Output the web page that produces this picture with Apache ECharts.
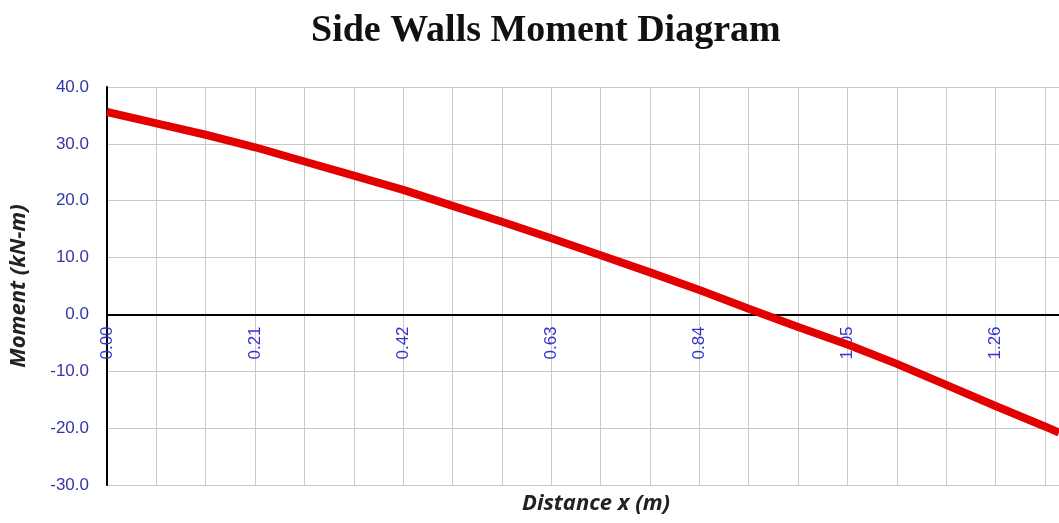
<!DOCTYPE html>
<html>
<head>
<meta charset="utf-8">
<title>Side Walls Moment Diagram</title>
<script src="https://cdn.jsdelivr.net/npm/echarts@6/dist/echarts.min.js"></script>
<style>
  html, body { margin: 0; padding: 0; background: #fff; }
  #main { width: 1059px; height: 523px; }
</style>
</head>
<body>
<div id="main"></div>
<script>
// distance along the wall (m)
var distX = [0.00, 0.07, 0.14, 0.21, 0.28, 0.35, 0.42, 0.49, 0.56, 0.63, 0.70,
             0.77, 0.84, 0.91, 0.98, 1.05, 1.12, 1.19, 1.26, 1.33, 1.35]
// bending moment (kN-m)
var moment = [35.6, 33.6, 31.6, 29.4, 26.9, 24.4, 21.9, 19.1, 16.3, 13.4, 10.4,
              7.4, 4.3, 1.0, -2.2, -5.3, -8.7, -12.4, -16.1, -19.7, -20.8]
// labelled x ticks (every third grid line)
var xLabels = [0.00, 0.21, 0.42, 0.63, 0.84, 1.05, 1.26]

var pts = []
for (var i = 0; i < distX.length; i++) {
  pts.push([distX[i], moment[i]])
}

// grid box
var gTop = 87, gBottom = 38, gHeight = 523 - gTop - gBottom
var yMin = -30, yMax = 40
// move the x axis (line + labels) up to the zero line
var zeroShift = -gHeight * (0 - yMin) / (yMax - yMin)

var myChart = echarts.init(document.getElementById('main'))
myChart.setOption({
  backgroundColor: '#ffffff',
  animation: false,
  title: {
    text: 'Side Walls Moment Diagram',
    left: 306,
    top: 7,
    textStyle: {
      fontFamily: 'Liberation Serif',
      fontWeight: 'bold',
      fontSize: 38,
      color: '#111'
    }
  },
  grid: { left: 106, top: gTop, right: 0, bottom: gBottom },
  xAxis: {
    type: 'value',
    min: 0,
    max: 1.35,
    interval: 0.07,
    offset: zeroShift,
    axisLine: { onZero: false, lineStyle: { color: '#000', width: 2 } },
    axisTick: { show: false },
    splitLine: { show: true, lineStyle: { color: '#c8c8c8', width: 1 } },
    axisLabel: {
      rotate: 90,
      margin: 12,
      color: '#3333cc',
      fontFamily: 'Liberation Sans',
      fontSize: 17,
      showMaxLabel: false,
      formatter: function (v) {
        for (var k = 0; k < xLabels.length; k++) {
          if (Math.abs(v - xLabels[k]) < 1e-6) return xLabels[k].toFixed(2)
        }
        return ''
      }
    }
  },
  yAxis: {
    type: 'value',
    min: yMin,
    max: yMax,
    interval: 10,
    name: 'Moment (kN-m)',
    nameLocation: 'middle',
    nameGap: 77,
    nameTextStyle: {
      fontFamily: 'Open Sans',
      fontStyle: 'italic',
      fontWeight: 'bold',
      fontSize: 22,
      color: '#222'
    },
    axisLine: { show: true, onZero: false, lineStyle: { color: '#000', width: 2 } },
    axisTick: { show: false },
    splitLine: { show: true, lineStyle: { color: '#c8c8c8', width: 1 } },
    axisLabel: {
      margin: 18,
      color: '#3434a8',
      fontFamily: 'Liberation Sans',
      fontSize: 17,
      formatter: function (v) { return v.toFixed(1) }
    }
  },
  graphic: [{
    type: 'text',
    left: 522,
    top: 493,
    style: {
      text: 'Distance x (m)',
      fontFamily: 'Open Sans',
      fontStyle: 'italic',
      fontWeight: 'bold',
      fontSize: 22,
      fill: '#222'
    }
  }],
  series: [{
    name: 'Moment',
    type: 'line',
    data: pts,
    showSymbol: false,
    smooth: false,
    lineStyle: { color: '#e30000', width: 8, join: 'round' },
    clip: true
  }]
})
</script>
</body>
</html>
